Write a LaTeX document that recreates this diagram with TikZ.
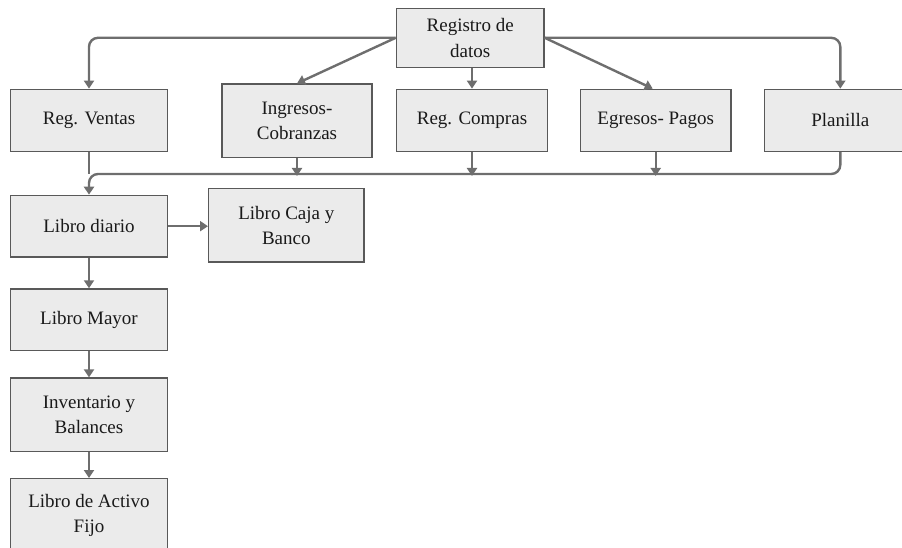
\documentclass[tikz,border=0pt]{standalone}
\usepackage{fontspec}
\setmainfont{Liberation Serif}
\usetikzlibrary{arrows.meta}
\definecolor{boxfill}{HTML}{EBEBEB}
\definecolor{boxline}{HTML}{595959}
\definecolor{conncol}{HTML}{6E6E6E}
\definecolor{txtcol}{HTML}{1A1A1A}
\tikzset{
  box/.style={draw=boxline, fill=boxfill, line width=1.3pt, inner sep=0pt,
    align=center, text=txtcol, font=\fontsize{19}{25.5}\selectfont},
  conn/.style={draw=conncol, line width=2.4pt, -{Triangle[length=8pt,width=10pt]}},
  plain/.style={draw=conncol, line width=2.4pt},
}
\begin{document}
\begin{tikzpicture}[x=1pt,y=-1pt]
\useasboundingbox (0,0) rectangle (902,548);
% nodes
\node[box, minimum width=147.7pt, minimum height=59pt] (reg) at (470.2,37.8) {Registro de\\datos};
\node[box, minimum width=156.6pt, minimum height=62pt] (ventas) at (89,120.3) {Reg. Ventas};
\node[box, minimum width=150pt, minimum height=73.3pt] (ingresos) at (297,120.7) {Ingresos-\\Cobranzas};
\node[box, minimum width=151.4pt, minimum height=62pt] (compras) at (472,120.3) {Reg. Compras};
\node[box, minimum width=150.7pt, minimum height=62pt] (egresos) at (655.7,120.3) {Egresos- Pagos};
\node[box, minimum width=151.2pt, minimum height=62pt] (planilla) at (840.3,120.3) {Planilla};
\node[box, minimum width=156.6pt, minimum height=61.7pt] (diario) at (89,226.2) {Libro diario};
\node[box, minimum width=155.3pt, minimum height=73.3pt] (caja) at (286.3,225.3) {Libro Caja y\\Banco};
\node[box, minimum width=156.6pt, minimum height=61.7pt] (mayor) at (89,319.8) {Libro Mayor};
\node[box, minimum width=156.6pt, minimum height=73.3pt] (inventario) at (89,414.7) {Inventario y\\Balances};
\node[box, minimum width=156.6pt, minimum height=73.3pt] (activo) at (89,515.3) {Libro de Activo\\Fijo};
\coordinate (bus) at (0,174);
% top connectors
\draw[conn, rounded corners=9pt] (reg.west) -| (ventas.north);
\draw[conn, rounded corners=9pt] (reg.east) -| (planilla.north);
\draw[conn] (reg.west) -- (ingresos.north);
\draw[conn] (reg.east) -- ([xshift=-3pt]egresos.north);
\draw[conn] (compras.north |- reg.south) -- (compras.north);
% bus
\draw[conn, rounded corners=9pt] (planilla.south) -- (planilla.south |- bus) -- (diario.north |- bus) -- (diario.north);
\draw[plain] (ventas.south) -- (ventas.south |- bus);
\draw[conn] (ingresos.south) -- ([yshift=-2pt]ingresos.south |- bus);
\draw[conn] (compras.south) -- ([yshift=-2pt]compras.south |- bus);
\draw[conn] (egresos.south) -- ([yshift=-2pt]egresos.south |- bus);
% lower chain
\draw[conn] (diario.east) -- (caja.west |- diario.east);
\draw[conn] (diario.south) -- (mayor.north);
\draw[conn] (mayor.south) -- (inventario.north);
\draw[conn] (inventario.south) -- (activo.north);
\end{tikzpicture}
\end{document}
